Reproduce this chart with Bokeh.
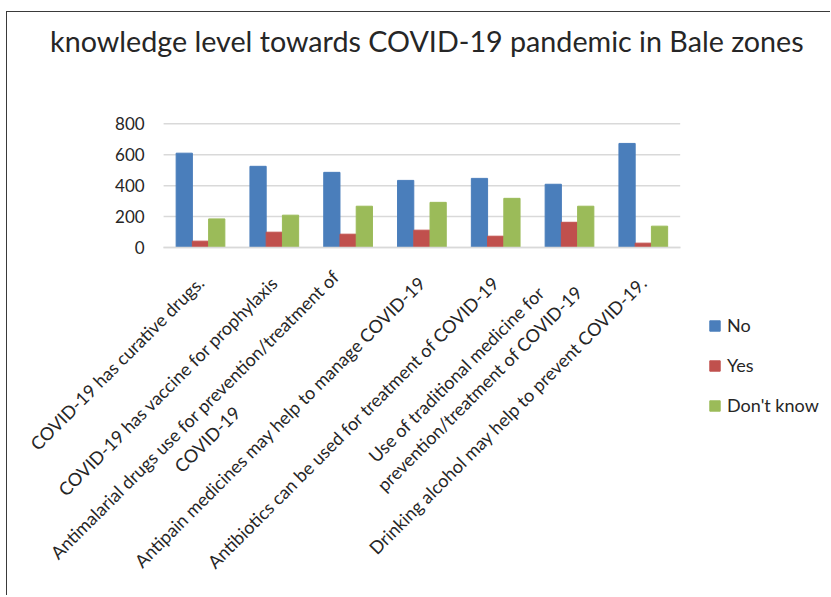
from math import pi
from bokeh.plotting import figure
from bokeh.models import ColumnDataSource, Legend, LegendItem, FixedTicker, Label
from bokeh.transform import dodge
from bokeh.embed import file_html
from bokeh.resources import INLINE

NB = "\u00a0"
categories = [
    "COVID-19 has curative drugs.",
    "COVID-19 has vaccine for prophylaxis",
    "Antimalarial drugs  use for prevention/treatment of\nCOVID-19" + NB * 37,
    "Antipain medicines may help to manage COVID-19",
    "Antibiotics can be used for treatment of COVID-19",
    "Use of traditional medicine for" + NB * 6 + "\nprevention/treatment of COVID-19",
    "Drinking alcohol may help to prevent COVID-19.",
]
no_vals = [610, 525, 486, 434, 447, 409, 673]
yes_vals = [41, 99, 86, 112, 73, 163, 28]
dk_vals = [185, 209, 267, 292, 318, 267, 138]
series_names = ["No", "Yes", "Don't know"]
colors = ["#4A7EBB", "#C0504D", "#9BBB59"]
y_ticks = [0, 200, 400, 600, 800]
title_text = "knowledge level towards COVID-19 pandemic in Bale zones"

FONT = "Lato"
TXT = "#262626"

# canvas geometry (pixels)
W, H = 824, 584
X0_PX, PX_PER_CAT = 156.1, 73.8      # canvas x of category-axis origin, pixels per category
Y0_PX, PX_PER_800 = 235.0, 123.7     # canvas y of value 0, pixels per 800 units
k = 800 / PX_PER_800

n = len(categories)
xpos = [i + 0.5 for i in range(n)]
src = ColumnDataSource(dict(x=xpos, cat=categories, no=no_vals, yes=yes_vals, dk=dk_vals))

p = figure(
    x_range=(-X0_PX / PX_PER_CAT, (W - X0_PX) / PX_PER_CAT),
    y_range=(-(H - Y0_PX) * k, Y0_PX * k),
    width=W, height=H, title=None,
    output_backend="svg", toolbar_location=None,
    min_border=0,
    styles={"margin-left": "6px", "margin-top": "11px",
            "border-top": "1px solid #3a3a3a", "border-left": "1px solid #3a3a3a"},
)
p.outline_line_color = None
p.grid.grid_line_color = None

# horizontal gridlines over the category span
p.segment(x0=[0] * len(y_ticks), x1=[n] * len(y_ticks), y0=y_ticks, y1=y_ticks,
          line_color="#D9D9D9", line_width=1.5)

w = 0.22
r1 = p.vbar(x=dodge("x", -w), top="no", width=w, source=src, color=colors[0])
r2 = p.vbar(x=dodge("x", 0), top="yes", width=w, source=src, color=colors[1])
r3 = p.vbar(x=dodge("x", w), top="dk", width=w, source=src, color=colors[2])

ya = p.yaxis[0]
ya.fixed_location = 0
ya.ticker = FixedTicker(ticks=y_ticks)
ya.bounds = (y_ticks[0], y_ticks[-1])
ya.axis_line_color = None
ya.major_tick_line_color = None
ya.minor_tick_line_color = None
ya.major_tick_out = 0
ya.major_label_text_font = FONT
ya.major_label_text_font_size = "17px"
ya.major_label_text_color = TXT
ya.major_label_standoff = 19

xa = p.xaxis[0]
xa.fixed_location = 0
xa.bounds = (0, n)
xa.ticker = FixedTicker(ticks=xpos)
xa.major_label_overrides = {x: c for x, c in zip(xpos, categories)}
xa.axis_line_color = "#D9D9D9"
xa.axis_line_width = 1.5
xa.major_tick_line_color = None
xa.minor_tick_line_color = None
xa.major_tick_out = 0
xa.major_label_orientation = pi / 4
xa.major_label_text_font = FONT
xa.major_label_text_font_size = "18px"
xa.major_label_text_color = TXT
xa.major_label_standoff = 32

p.add_layout(Label(
    x=n / 2, y=(Y0_PX - 28.3) * k, x_offset=5, text=title_text,
    text_align="center", text_baseline="alphabetic",
    text_font=FONT, text_font_size="28.7px", text_color=TXT,
))

legend = Legend(
    items=[LegendItem(label=s, renderers=[r]) for s, r in zip(series_names, [r1, r2, r3])],
    location=(701, 180),
    glyph_width=13, glyph_height=13, label_height=21, spacing=18,
    label_standoff=6, padding=0, margin=0,
    border_line_color=None, background_fill_alpha=0,
    label_text_font=FONT, label_text_font_size="18px", label_text_color=TXT,
)
p.add_layout(legend, "center")

open("out.html", "w").write(file_html(p, INLINE))
